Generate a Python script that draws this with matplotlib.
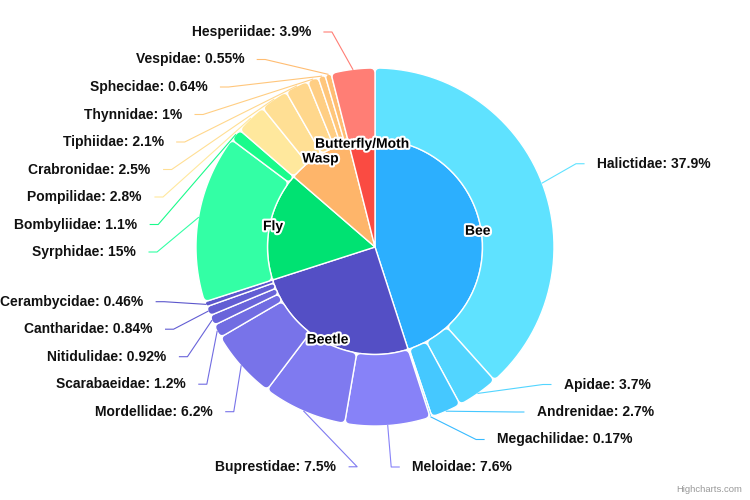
import numpy as np
import matplotlib
matplotlib.use("Agg")
import matplotlib.pyplot as plt
from matplotlib.path import Path
from matplotlib.patches import PathPatch
import matplotlib.patheffects as pe

# Datos: grupos de polinizadores y familias (porcentajes)
groups = ["Bee", "Beetle", "Fly", "Wasp", "Butterfly/Moth"]
group_colors = ["#2caffe", "#544fc5", "#00e272", "#feb56a", "#fa4b42"]

bee_families = ["Halictidae", "Apidae", "Andrenidae", "Megachilidae"]
bee_shares = [37.9, 3.7, 2.7, 0.17]
beetle_families = ["Meloidae", "Buprestidae", "Mordellidae", "Scarabaeidae",
                   "Nitidulidae", "Cantharidae", "Cerambycidae"]
beetle_shares = [7.6, 7.5, 6.2, 1.2, 0.92, 0.84, 0.46]
fly_families = ["Syrphidae", "Bombyliidae"]
fly_shares = [15, 1.1]
wasp_families = ["Pompilidae", "Crabronidae", "Tiphiidae", "Thynnidae",
                 "Sphecidae", "Vespidae"]
wasp_shares = [2.8, 2.5, 2.1, 1, 0.64, 0.55]
moth_families = ["Hesperiidae"]
moth_shares = [3.9]

families = [bee_families, beetle_families, fly_families, wasp_families, moth_families]
shares = [bee_shares, beetle_shares, fly_shares, wasp_shares, moth_shares]

# Geometria (pixeles)
cx, cy = 375, 247
r_inner = 107.5
r_outer = 179
label_ry = 222
label_rx = 233
label_h = 27.5
y_lo, y_hi = 32 - label_h / 2, 467 + label_h / 2
fuente = ["Liberation Sans", "DejaVu Sans"]


def brighten(hexcol, a):
    c = [int(hexcol[i:i + 2], 16) for i in (1, 3, 5)]
    c = [min(255, max(0, v + int(a * 255))) for v in c]
    return "#%02x%02x%02x" % tuple(c)


def pt(t, r):
    return (cx + r * np.sin(t), cy - r * np.cos(t))


def slice_patch(a0, a1, r_in, r_out, color, rr):
    t0, t1 = np.radians(a0), np.radians(a1)
    dt = t1 - t0
    ro = min(rr, (r_out - r_in) / 2, r_out * dt / 2)
    verts = [pt(t0, r_out - ro), pt(t0, r_out), pt(t0 + ro / r_out, r_out)]
    codes = [Path.MOVETO, Path.CURVE3, Path.CURVE3]
    for t in np.linspace(t0 + ro / r_out, t1 - ro / r_out, 60):
        verts.append(pt(t, r_out))
        codes.append(Path.LINETO)
    verts += [pt(t1, r_out), pt(t1, r_out - ro)]
    codes += [Path.CURVE3, Path.CURVE3]
    if r_in > 0:
        ri = min(rr, (r_out - r_in) / 2, r_in * dt / 2)
        verts.append(pt(t1, r_in + ri))
        codes.append(Path.LINETO)
        verts += [pt(t1, r_in), pt(t1 - ri / r_in, r_in)]
        codes += [Path.CURVE3, Path.CURVE3]
        for t in np.linspace(t1 - ri / r_in, t0 + ri / r_in, 40):
            verts.append(pt(t, r_in))
            codes.append(Path.LINETO)
        verts += [pt(t0, r_in), pt(t0, r_in + ri)]
        codes += [Path.CURVE3, Path.CURVE3]
    else:
        verts.append((cx, cy))
        codes.append(Path.LINETO)
    verts.append(verts[0])
    codes.append(Path.CLOSEPOLY)
    return PathPatch(Path(verts, codes), facecolor=color, edgecolor="white",
                     lw=1.0, joinstyle="round")


def spread(targets):
    # reparte etiquetas sin solaparse
    order = list(np.argsort(targets))
    grps = []
    for i in order:
        grps.append([[i], 0.0])
        while True:
            g = grps[-1]
            n = len(g[0])
            top = np.mean([targets[k] for k in g[0]]) - n * label_h / 2
            top = min(max(top, y_lo), y_hi - n * label_h)
            g[1] = top
            if len(grps) > 1 and grps[-2][1] + len(grps[-2][0]) * label_h > top:
                prev = grps.pop(-2)
                grps[-1] = [prev[0] + g[0], 0.0]
            else:
                break
    pos = {}
    for members, top in grps:
        for j, k in enumerate(members):
            pos[k] = top + label_h * (j + 0.5)
    return pos


fig = plt.figure(figsize=(7.5, 5), dpi=100)
ax = fig.add_axes([0, 0, 1, 1])
ax.set_xlim(0, 750)
ax.set_ylim(500, 0)
ax.axis("off")

total = sum(sum(s) for s in shares)
start = 0.0
outer = []  # (nombre, valor, a0, a1, color)
for g, col, fams, vals in zip(groups, group_colors, families, shares):
    g_total = sum(vals)
    a0 = start
    a1 = start + g_total / total * 360
    ax.add_patch(slice_patch(a0, a1, 0, r_inner, col, 2))
    sub = a0
    n = len(vals)
    for j, (f, v) in enumerate(zip(fams, vals)):
        b = 0.2 - (j / n) / 5
        e = sub + v / total * 360
        outer.append((f, v, sub, e, brighten(col, b)))
        sub = e
    start = a1

for f, v, a0, a1, c in outer:
    ax.add_patch(slice_patch(a0, a1, r_inner, r_outer, c, 5))

# etiquetas internas
start = 0.0
for g, vals in zip(groups, shares):
    a1 = start + sum(vals) / total * 360
    x, y = pt(np.radians((start + a1) / 2), 104)
    ax.text(x, y, g, ha="center", va="center", fontsize=10, fontweight="bold",
            family=fuente, color="black", zorder=5,
            path_effects=[pe.withStroke(linewidth=3, foreground="white")])
    start = a1

# etiquetas externas con conectores
mids = [np.radians((o[2] + o[3]) / 2) for o in outer]
for side in (-1, 1):
    idx = [i for i, m in enumerate(mids) if np.sign(np.sin(m)) == side]
    targets = [cy - label_rx * np.cos(mids[i]) + (6 if side < 0 else 0) for i in idx]
    pos = spread(targets)
    for k, i in enumerate(idx):
        f, v, a0, a1, c = outer[i]
        y = pos[k]
        dy = y - cy
        off = label_rx * np.sqrt(max(0.0, 1 - (dy / label_ry) ** 2))
        tx = cx + side * (off + 6)
        end_x = tx - side * 13
        crook_x = end_x - side * 8
        sx, sy = pt(mids[i], r_outer)
        ax.plot([sx, crook_x, end_x], [sy, y, y], color=c, lw=0.8, zorder=1)
        ax.text(tx, y, "%s: %g%%" % (f, v), ha="left" if side > 0 else "right",
                va="center", fontsize=10, fontweight="bold", color="#111111",
                family=fuente)

ax.text(742, 489, "Highcharts.com", ha="right", va="center", fontsize=6.8,
        color="#999999", family=fuente)

fig.savefig("out.png", dpi=100)
